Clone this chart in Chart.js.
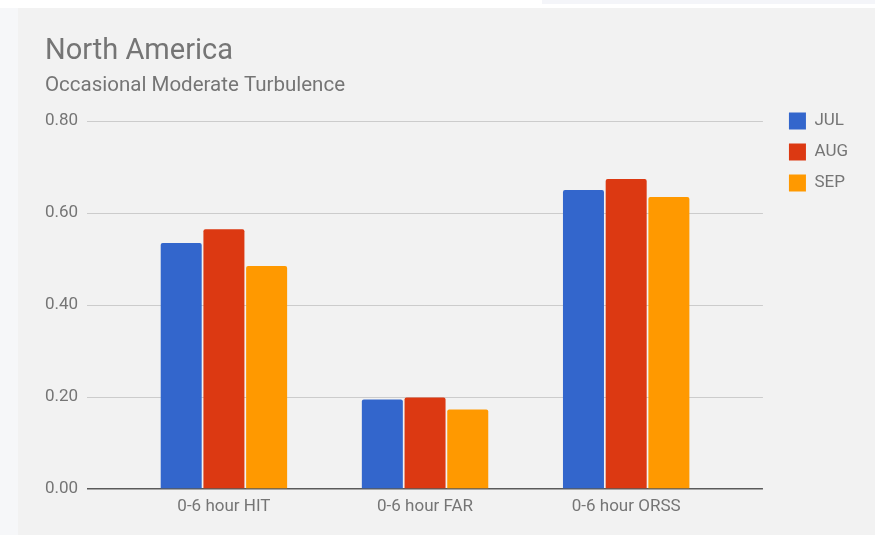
<!DOCTYPE html>
<html>
<head>
<meta charset="utf-8">
<script src="https://cdn.jsdelivr.net/npm/chart.js@4"></script>
<style>
  html, body { margin: 0; padding: 0; background: #ffffff; }
  body { width: 875px; height: 535px; position: relative; overflow: hidden; }
  #strip { position: absolute; left: 0; top: 8px; width: 18px; height: 527px; background: #f6f7f9; }
  #topband { position: absolute; left: 542px; top: 0; width: 333px; height: 4px; background: #f4f5f9; }
  #card { position: absolute; left: 18px; top: 8px; width: 857px; height: 527px; background: #f2f2f2; }
  #wrap { position: absolute; left: 0; top: 0; width: 875px; height: 535px; }
</style>
</head>
<body>
<div id="strip"></div>
<div id="topband"></div>
<div id="card"></div>
<div id="wrap"><canvas id="myChart"></canvas></div>
<script>
'use strict';

const categories = ['0-6 hour HIT', '0-6 hour FAR', '0-6 hour ORSS'];
const months = ['JUL', 'AUG', 'SEP'];
const julValues = [0.535, 0.195, 0.650];
const augValues = [0.565, 0.199, 0.674];
const sepValues = [0.485, 0.173, 0.635];
const yTicks = [0, 0.2, 0.4, 0.6, 0.8];

const colors = ['#3366cc', '#dc3912', '#ff9900'];
const textColor = '#757575';

function toPoints(values) {
  return values.map((v, i) => ({ x: i, y: v }));
}

let allValues = [julValues, augValues, sepValues];
let datasets = [];
for (let i = 0; i < months.length; i++) {
  datasets.push({
    label: months[i],
    data: toPoints(allValues[i]),
    backgroundColor: colors[i],
    borderWidth: 0,
    borderRadius: 2,
    borderSkipped: 'bottom',
    categoryPercentage: 0.637,
    barPercentage: 0.96
  });
}

Chart.defaults.font.family = 'Roboto, "Noto Sans", sans-serif';
Chart.defaults.color = textColor;

let canvasElem = document.getElementById('myChart').getContext('2d');

new Chart(canvasElem, {
  type: 'bar',
  data: { datasets: datasets },
  options: {
    responsive: true,
    maintainAspectRatio: false,
    animation: false,
    layout: { padding: { left: 45, top: 8, right: 17, bottom: 11.5 } },
    plugins: {
      title: {
        display: true,
        text: 'North America',
        align: 'start',
        color: textColor,
        font: { size: 29, weight: 'normal' },
        padding: { top: 26, bottom: 0 }
      },
      subtitle: {
        display: true,
        text: 'Occasional Moderate Turbulence',
        align: 'start',
        color: textColor,
        font: { size: 20.5, weight: 'normal' },
        padding: { top: 4.4, bottom: 23.2 }
      },
      legend: {
        position: 'right',
        align: 'start',
        fullSize: true,
        title: { display: true, text: '', font: { size: 12 }, padding: { top: 76, bottom: 0 } },
        labels: {
          boxWidth: 17,
          boxHeight: 17,
          padding: 14,
          color: textColor,
          font: { size: 17 }
        }
      },
      tooltip: { enabled: false }
    },
    scales: {
      x: {
        type: 'linear',
        min: -0.68,
        max: 2.68,
        offset: false,
        grid: { display: false, drawTicks: false },
        border: { display: false },
        afterBuildTicks: axis => {
          axis.ticks = categories.map((c, i) => ({ value: i }));
        },
        ticks: {
          padding: 7,
          maxRotation: 0,
          font: { size: 17 },
          color: textColor,
          callback: value => categories[value]
        }
      },
      y: {
        min: 0,
        max: 0.8,
        afterBuildTicks: axis => {
          axis.ticks = yTicks.map(v => ({ value: v }));
        },
        // padding is counted twice in the axis width, take one back
        afterFit: axis => { axis.width -= axis.options.ticks.padding; },
        border: { display: false },
        grid: {
          drawTicks: false,
          color: ctx => (ctx.tick && ctx.tick.value === 0 ? '#5a5a5a' : '#cccccc'),
          lineWidth: ctx => (ctx.tick && ctx.tick.value === 0 ? 1.5 : 1)
        },
        ticks: {
          padding: 9,
          font: { size: 17 },
          color: textColor,
          callback: value => value.toFixed(2)
        }
      },
      spacer: {
        position: 'right',
        display: true,
        grid: { display: false },
        border: { display: false },
        ticks: { display: false },
        afterFit: axis => { axis.width = 12; }
      }
    }
  }
});
</script>
</body>
</html>
